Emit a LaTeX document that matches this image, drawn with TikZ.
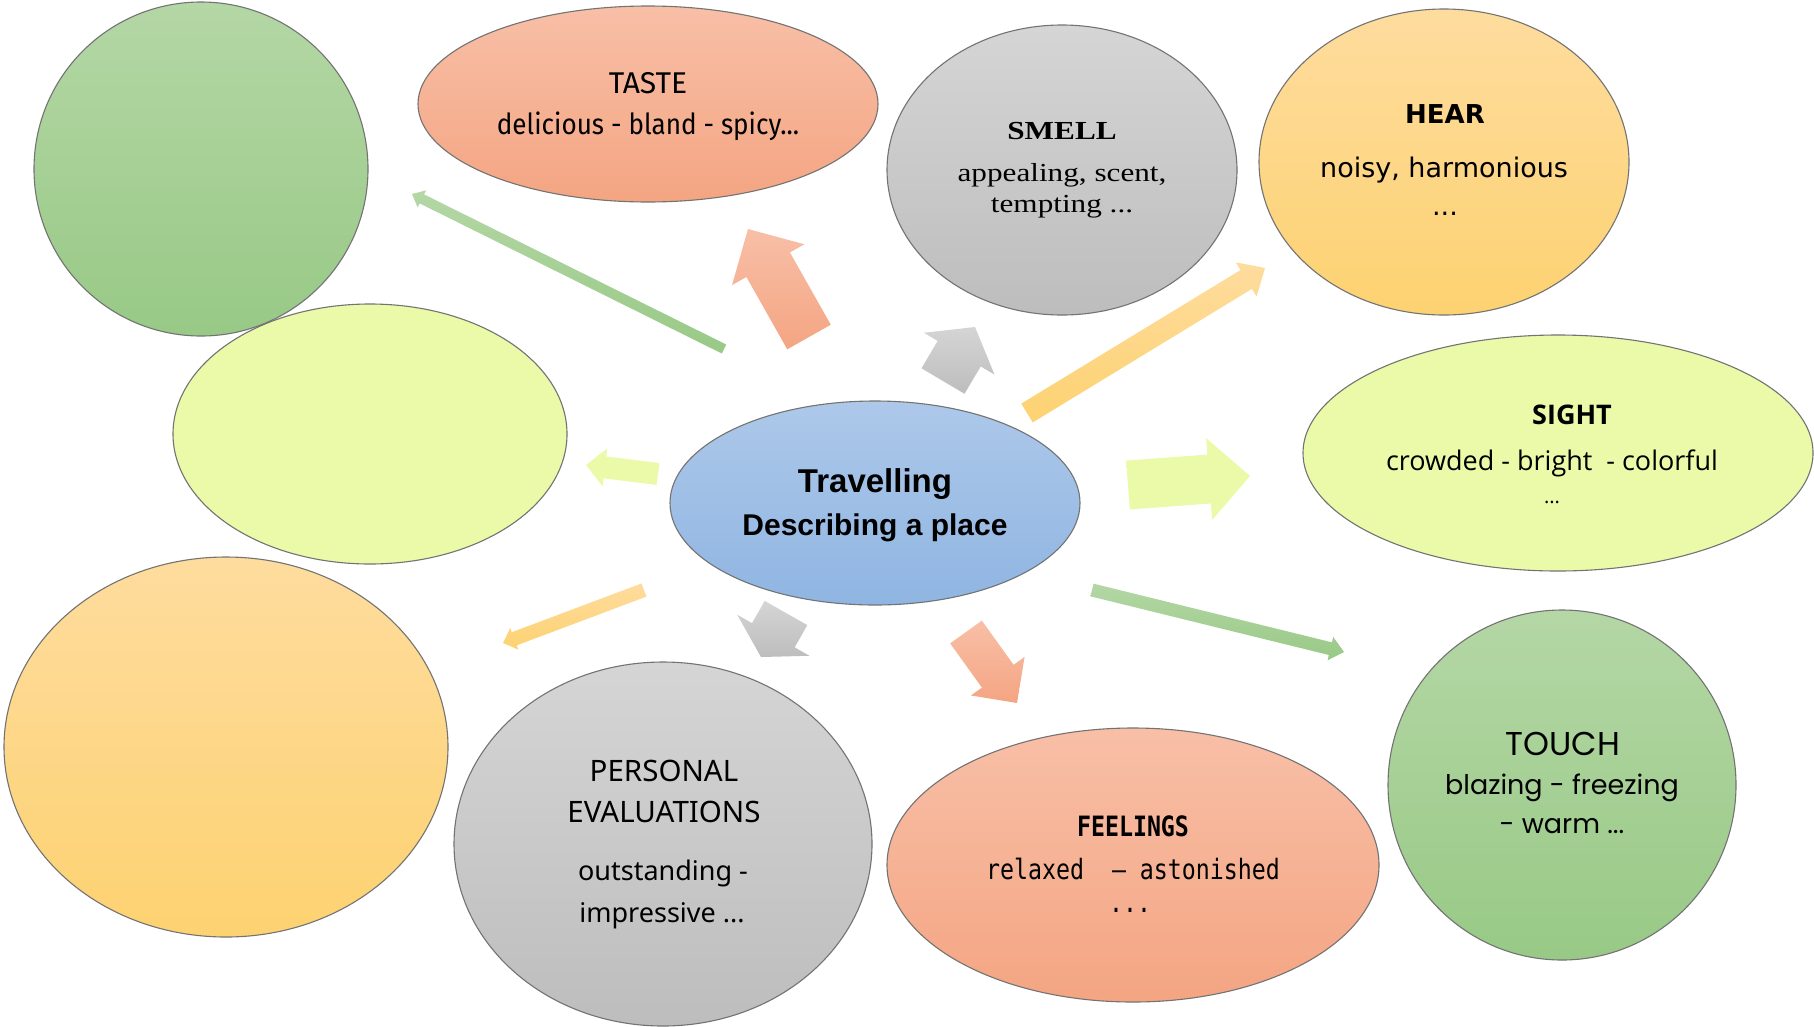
\documentclass[tikz,border=0pt]{standalone}
\usepackage{fontspec}
\usetikzlibrary{shapes.geometric,calc}
\newfontfamily\tastefont[FakeStretch=0.9]{Fira Sans}
\newfontfamily\tastetitle{Fira Sans}
\newfontfamily\smellfont[FakeStretch=1.2]{Liberation Serif}
\newfontfamily\hearfont{DejaVu Sans}
\newfontfamily\centerfont{Liberation Sans}
\newfontfamily\sightfont{Open Sans}
\newfontfamily\touchfont{Poppins}
\newfontfamily\persfont{Noto Sans}
\newfontfamily\feelfont[FakeStretch=0.83]{DejaVu Sans Mono}
\definecolor{grnT}{HTML}{B4D7A5}
\definecolor{grnB}{HTML}{98C986}
\definecolor{salT}{HTML}{F8BFA7}
\definecolor{salB}{HTML}{F4A582}
\definecolor{gryT}{HTML}{D5D5D5}
\definecolor{gryB}{HTML}{BDBDBD}
\definecolor{orgT}{HTML}{FEDC9E}
\definecolor{orgB}{HTML}{FDD271}
\definecolor{lgrn}{HTML}{EAFAA8}
\definecolor{bluT}{HTML}{ADC8E9}
\definecolor{bluB}{HTML}{8FB5E2}
\newcommand\blockarrow[6]{%
  \coordinate (#1-#2-b) at ($(#2)!#5!(#1)$);
  \shade[#6] ($(#1)!#3!90:(#2)$) -- ($(#1-#2-b)!#3!90:(#2)$) -- ($(#1-#2-b)!#4!90:(#2)$) -- (#2)
    -- ($(#1-#2-b)!#4!-90:(#2)$) -- ($(#1-#2-b)!#3!-90:(#2)$) -- ($(#1)!#3!-90:(#2)$) -- cycle;
}
\tikzset{
  bubble/.style={ellipse, draw=black!55, line width=1.1pt, inner sep=0pt},
  lbl/.style={anchor=base, inner sep=0pt, align=center},
  fgreen/.style={top color=grnT, bottom color=grnB},
  fsalmon/.style={top color=salT, bottom color=salB},
  fgray/.style={top color=gryT, bottom color=gryB},
  forange/.style={top color=orgT, bottom color=orgB},
  flgreen/.style={top color=lgrn, bottom color=lgrn},
  fblue/.style={top color=bluT, bottom color=bluB},
}
\begin{document}
\begin{tikzpicture}[x=1pt,y=-1pt]
\fill[white] (0,0) rectangle (1814,1026);
\useasboundingbox (0,0) rectangle (1814,1026);

% bubbles
\node[bubble, fgreen, minimum width=334pt, minimum height=334pt] (gcircle) at (201,169) {};
\node[bubble, fsalmon, minimum width=460pt, minimum height=196pt] (taste) at (648,104) {};
\node[bubble, fgray, minimum width=350pt, minimum height=290pt] (smell) at (1062,170) {};
\node[bubble, forange, minimum width=370pt, minimum height=306pt] (hear) at (1444,162) {};
\node[bubble, flgreen, minimum width=394pt, minimum height=260pt] (lgleft) at (370,434) {};
\node[bubble, fblue, minimum width=410pt, minimum height=204pt] (center) at (875,503) {};
\node[bubble, flgreen, minimum width=510pt, minimum height=236pt] (sight) at (1558,453) {};
\node[bubble, forange, minimum width=444pt, minimum height=380pt] (oleft) at (226,747) {};
\node[bubble, fgray, minimum width=418pt, minimum height=364pt] (personal) at (663,844) {};
\node[bubble, fsalmon, minimum width=492pt, minimum height=274pt] (feelings) at (1133,865) {};
\node[bubble, fgreen, minimum width=348pt, minimum height=350pt] (touch) at (1562,785) {};

% arrow end points
\coordinate (a1t) at (724,349);  \coordinate (a1p) at (412,194);
\coordinate (a2t) at (809,337);  \coordinate (a2p) at (748,229);
\coordinate (a3t) at (943,381);  \coordinate (a3p) at (975,327);
\coordinate (a4t) at (1027,413); \coordinate (a4p) at (1265,268);
\coordinate (a5t) at (1128,485); \coordinate (a5p) at (1250,476);
\coordinate (a6t) at (1092,590); \coordinate (a6p) at (1344,652);
\coordinate (a7t) at (966,632);  \coordinate (a7p) at (1017,703);
\coordinate (a8t) at (786,613);  \coordinate (a8p) at (761,657);
\coordinate (a9t) at (644,590);  \coordinate (a9p) at (503,643);
\coordinate (a10t) at (658,474); \coordinate (a10p) at (586,465);

\blockarrow{a1t}{a1p}{5pt}{9.5pt}{11pt}{fgreen}
\blockarrow{a2t}{a2p}{25pt}{41.5pt}{41pt}{fsalmon}
\blockarrow{a3t}{a3p}{25pt}{41pt}{31pt}{fgray}
\blockarrow{a4t}{a4p}{11pt}{20pt}{22pt}{forange}
\blockarrow{a5t}{a5p}{24.5pt}{41pt}{41pt}{flgreen}
\blockarrow{a6t}{a6p}{6.5pt}{12pt}{14pt}{fgreen}
\blockarrow{a7t}{a7p}{19.5pt}{33pt}{33pt}{fsalmon}
\blockarrow{a8t}{a8p}{24.5pt}{41.5pt}{25pt}{fgray}
\blockarrow{a9t}{a9p}{7pt}{11.5pt}{12pt}{forange}
\blockarrow{a10t}{a10p}{11pt}{19pt}{19pt}{flgreen}

% texts
\node[lbl, font=\tastetitle\fontsize{30pt}{32pt}\selectfont] (tasteA) at (648,93) {TASTE};
\node[lbl, font=\tastefont\fontsize{29pt}{32pt}\selectfont] (tasteB) at (648,134) {delicious - bland - spicy...};

\node[lbl, font=\smellfont\fontsize{26pt}{30pt}\selectfont\bfseries] (smellA) at (1062,139) {SMELL};
\node[lbl, font=\smellfont\fontsize{26pt}{30pt}\selectfont] (smellB) at (1062,181) {appealing, scent,};
\node[lbl, font=\smellfont\fontsize{26pt}{30pt}\selectfont] (smellC) at (1062,212) {tempting ...};

\node[lbl, font=\hearfont\fontsize{26pt}{30pt}\selectfont\bfseries] (hearA) at (1445,123) {HEAR};
\node[lbl, font=\hearfont\fontsize{27pt}{30pt}\selectfont] (hearB) at (1444,177) {noisy, harmonious};
\node[lbl, font=\hearfont\fontsize{27pt}{30pt}\selectfont] (hearC) at (1445,215) {...};

\node[lbl, font=\centerfont\fontsize{33pt}{36pt}\selectfont\bfseries] (centA) at (875,492) {Travelling};
\node[lbl, font=\centerfont\fontsize{30pt}{34pt}\selectfont\bfseries] (centB) at (875,535) {Describing a place};

\node[lbl, font=\sightfont\fontsize{27pt}{30pt}\selectfont\bfseries] (sightA) at (1572,424) {SIGHT};
\node[lbl, font=\sightfont\fontsize{27pt}{30pt}\selectfont] (sightB) at (1552,470) {crowded - bright\ \ - colorful};
\node[lbl, font=\sightfont\fontsize{20pt}{24pt}\selectfont] (sightC) at (1552,503) {...};

\node[lbl, font=\touchfont\fontsize{33pt}{36pt}\selectfont] (touchA) at (1563,755) {TOUCH};
\node[lbl, font=\touchfont\fontsize{27pt}{30pt}\selectfont] (touchB) at (1562,794) {blazing - freezing};
\node[lbl, font=\touchfont\fontsize{27pt}{30pt}\selectfont] (touchC) at (1562,833) {- warm ...};

\node[lbl, font=\persfont\fontsize{29.5pt}{32pt}\selectfont] (persA) at (664,781) {PERSONAL};
\node[lbl, font=\persfont\fontsize{29.5pt}{32pt}\selectfont] (persB) at (664,822) {EVALUATIONS};
\node[lbl, font=\persfont\fontsize{27pt}{30pt}\selectfont] (persC) at (663,880) {outstanding -};
\node[lbl, font=\persfont\fontsize{27pt}{30pt}\selectfont] (persD) at (662,922) {impressive ...};

\node[lbl, font=\feelfont\fontsize{28pt}{30pt}\selectfont\bfseries] (feelA) at (1133,836) {FEELINGS};
\node[lbl, font=\feelfont\fontsize{28pt}{30pt}\selectfont] (feelB) at (1133,879) {relaxed\ \ – astonished};
\node[lbl, font=\feelfont\fontsize{28pt}{30pt}\selectfont] (feelC) at (1130,912) {...};
\end{tikzpicture}
\end{document}
